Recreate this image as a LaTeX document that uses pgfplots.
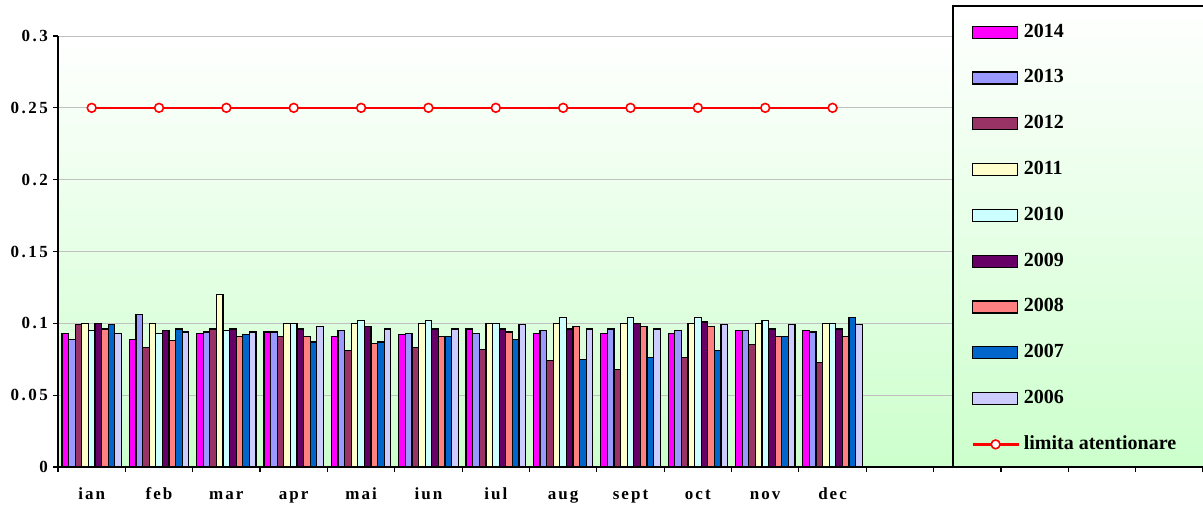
\documentclass[border=0pt]{standalone}
\usepackage{fontspec}
\setmainfont{Liberation Serif}
\newfontfamily\spaced[LetterSpace=12]{Liberation Serif}
\newfontfamily\yspaced[LetterSpace=15]{Liberation Serif}
\usepackage{pgfplots}
\usepackage{pgfplotstable}
\pgfplotsset{compat=1.18}

\definecolor{c14}{HTML}{FF00FF}
\definecolor{c13}{HTML}{9999FF}
\definecolor{c12}{HTML}{993366}
\definecolor{c11}{HTML}{FFFFCC}
\definecolor{c10}{HTML}{CCFFFF}
\definecolor{c09}{HTML}{660066}
\definecolor{c08}{HTML}{FF8080}
\definecolor{c07}{HTML}{0066CC}
\definecolor{c06}{HTML}{CCCCFF}
\definecolor{bgg}{HTML}{CCFFCC}
\definecolor{gridc}{HTML}{C0C0C0}

% luna: 0=ian ... 11=dec
\pgfplotstableread{
m  y14   y13   y12   y11   y10   y09   y08   y07   y06
0  0.093 0.089 0.099 0.100 0.095 0.100 0.096 0.099 0.093
1  0.089 0.106 0.083 0.100 0.093 0.095 0.088 0.096 0.094
2  0.093 0.094 0.096 0.120 0.095 0.096 0.091 0.092 0.094
3  0.094 0.094 0.091 0.100 0.100 0.096 0.091 0.087 0.098
4  0.091 0.095 0.081 0.100 0.102 0.098 0.086 0.087 0.096
5  0.092 0.093 0.083 0.100 0.102 0.096 0.091 0.091 0.096
6  0.096 0.093 0.082 0.100 0.100 0.096 0.094 0.089 0.099
7  0.093 0.095 0.074 0.100 0.104 0.096 0.098 0.075 0.096
8  0.093 0.096 0.068 0.100 0.104 0.100 0.098 0.076 0.096
9  0.093 0.095 0.076 0.100 0.104 0.101 0.098 0.081 0.099
10 0.095 0.095 0.085 0.100 0.102 0.096 0.091 0.091 0.099
11 0.095 0.094 0.073 0.100 0.100 0.096 0.091 0.104 0.099
}\data

\pgfplotsset{
  yb/.style={fill=#1, draw=black, line width=0.6pt,
    legend image code/.code={\draw[fill=#1,draw=black,line width=0.6pt] (0pt,-3pt) rectangle (22.5pt,3pt);}},
  lineleg/.style={legend image code/.code={\draw[mark repeat=2,mark phase=2,##1] plot coordinates {(0pt,0pt) (11.5pt,0pt) (23pt,0pt)};}},
}

\begin{document}
\begin{tikzpicture}
\begin{axis}[
  scale only axis,
  width=572.5pt, height=215.5pt,
  xmin=-0.5, xmax=16.5, ymin=0, ymax=0.3,
  axis lines*=left,
  axis line style={black, line width=0.7pt},
  ybar=0pt, bar width=0.098,
  xtick={0,...,11},
  xticklabels={ian,feb,mar,apr,mai,iun,iul,aug,sept,oct,nov,dec},
  minor xtick={-0.5,0.5,...,16.5},
  xticklabel style={font=\spaced\bfseries\fontsize{8.5}{10}\selectfont,
    text height=6pt, text depth=0pt, yshift=-4.3pt},
  ytick={0,0.05,0.1,0.15,0.2,0.25,0.3},
  yticklabels={0,0.05,0.1,0.15,0.2,0.25,0.3},
  yticklabel style={font=\yspaced\bfseries\fontsize{8.5}{10}\selectfont, xshift=1pt},
  tick align=outside,
  major tick length=2.5pt, minor tick length=2.5pt,
  tick style={black, line width=0.6pt},
  major x tick style={draw=none},
  minor x tick style={black, line width=0.6pt},
  ymajorgrids,
  major y grid style={draw=gridc, line width=0.5pt},
  axis background/.style={top color=white, bottom color=bgg},
  clip=false,
  legend style={at={(axis description cs:0.7974,1.04)}, anchor=north west,
    draw=none, fill=none, inner sep=0pt, row sep=9.9pt, column sep=0pt,
    font=\bfseries\fontsize{10}{12}\selectfont,
    nodes={inner sep=2pt, text height=7pt, text depth=2pt}},
  legend cell align=left,
]
\addplot[yb=c14] table[x=m,y=y14] {\data};
\addplot[yb=c13] table[x=m,y=y13] {\data};
\addplot[yb=c12] table[x=m,y=y12] {\data};
\addplot[yb=c11] table[x=m,y=y11] {\data};
\addplot[yb=c10] table[x=m,y=y10] {\data};
\addplot[yb=c09] table[x=m,y=y09] {\data};
\addplot[yb=c08] table[x=m,y=y08] {\data};
\addplot[yb=c07] table[x=m,y=y07] {\data};
\addplot[yb=c06] table[x=m,y=y06] {\data};
\addplot[sharp plot, red, line width=1.2pt, mark=*, mark size=2.2pt,
  mark options={fill=white, draw=red, line width=0.8pt}, lineleg]
  coordinates {(0,0.25) (1,0.25) (2,0.25) (3,0.25) (4,0.25) (5,0.25)
               (6,0.25) (7,0.25) (8,0.25) (9,0.25) (10,0.25) (11,0.25)};
\legend{2014,2013,2012,2011,2010,2009,2008,2007,2006,limita atentionare}
% caseta legendei
\draw[black, line width=0.6pt, top color=white, bottom color=bgg]
  (rel axis cs:0.7817,0) rectangle (rel axis cs:1.02,1.0696);
\coordinate (SW) at (rel axis cs:0,0);
\coordinate (NE) at (rel axis cs:1,1);
\end{axis}
\pgfresetboundingbox
\path ([xshift=-29pt,yshift=-18.5pt]SW) rectangle ([yshift=18pt]NE);
\end{tikzpicture}
\end{document}
